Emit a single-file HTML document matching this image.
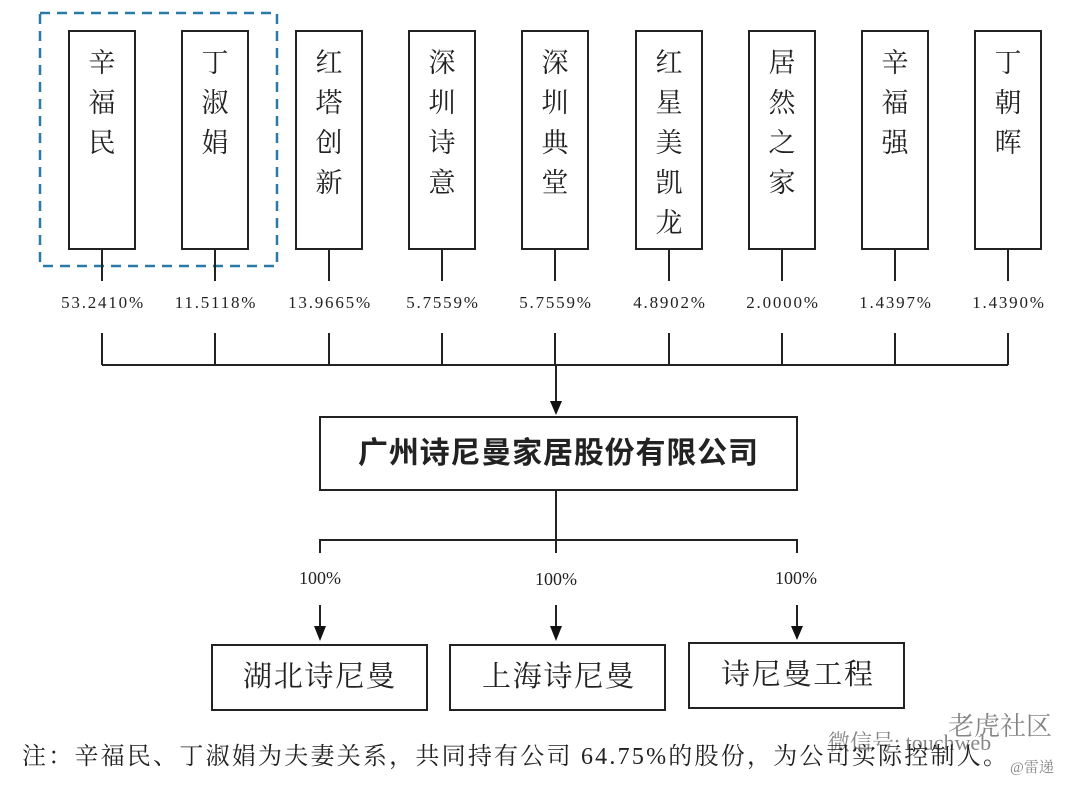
<!DOCTYPE html>
<html><head><meta charset="utf-8"><style>
body{margin:0;background:#fff;}
svg text{font-family:"Liberation Serif","Noto Serif CJK SC",serif;fill:#222;}
</style></head><body>
<svg width="1080" height="790" xmlns="http://www.w3.org/2000/svg">
<rect x="40" y="13" width="237" height="253" fill="none" stroke="#2a7aa8" stroke-width="2.5" stroke-dasharray="10,7"/>
<g stroke="#222" stroke-width="2" fill="none">
<rect x="69" y="31" width="66" height="218"/>
<rect x="182" y="31" width="66" height="218"/>
<rect x="296" y="31" width="66" height="218"/>
<rect x="409" y="31" width="66" height="218"/>
<rect x="522" y="31" width="66" height="218"/>
<rect x="636" y="31" width="66" height="218"/>
<rect x="749" y="31" width="66" height="218"/>
<rect x="862" y="31" width="66" height="218"/>
<rect x="975" y="31" width="66" height="218"/>
<path d="M102,249V281M215,249V281M329,249V281M442,249V281M555,249V281M669,249V281M782,249V281M895,249V281M1008,249V281"/>
<path d="M102,333V365M215,333V365M329,333V365M442,333V365M555,333V365M669,333V365M782,333V365M895,333V365M1008,333V365M102,365H1008"/>
<path d="M556,365V402"/>
<rect x="320" y="417" width="477" height="73"/>
<path d="M556,490V553M320,553V540H797V553"/>
<path d="M320,605V628M556,605V628M797,605V628"/>
<rect x="212" y="645" width="215" height="65"/>
<rect x="450" y="645" width="215" height="65"/>
<rect x="689" y="643" width="215" height="65"/>
</g>
<g fill="#111">
<path d="M550,401H562L556,415z"/>
<path d="M314,626H326L320,641z"/>
<path d="M550,626H562L556,641z"/>
<path d="M791,626H803L797,640z"/>
</g>
<g font-size="27" text-anchor="middle">
<text x="102" y="72">辛</text><text x="102" y="112">福</text><text x="102" y="152">民</text>
<text x="215" y="72">丁</text><text x="215" y="112">淑</text><text x="215" y="152">娟</text>
<text x="329" y="72">红</text><text x="329" y="112">塔</text><text x="329" y="152">创</text><text x="329" y="192">新</text>
<text x="442" y="72">深</text><text x="442" y="112">圳</text><text x="442" y="152">诗</text><text x="442" y="192">意</text>
<text x="555" y="72">深</text><text x="555" y="112">圳</text><text x="555" y="152">典</text><text x="555" y="192">堂</text>
<text x="669" y="72">红</text><text x="669" y="112">星</text><text x="669" y="152">美</text><text x="669" y="192">凯</text><text x="669" y="232">龙</text>
<text x="782" y="72">居</text><text x="782" y="112">然</text><text x="782" y="152">之</text><text x="782" y="192">家</text>
<text x="895" y="72">辛</text><text x="895" y="112">福</text><text x="895" y="152">强</text>
<text x="1008" y="72">丁</text><text x="1008" y="112">朝</text><text x="1008" y="152">晖</text>
</g>
<g font-size="17" text-anchor="middle" letter-spacing="1.8">
<text x="103" y="308">53.2410%</text><text x="216" y="308">11.5118%</text><text x="330" y="308">13.9665%</text>
<text x="443" y="308">5.7559%</text><text x="556" y="308">5.7559%</text><text x="670" y="308">4.8902%</text>
<text x="783" y="308">2.0000%</text><text x="896" y="308">1.4397%</text><text x="1009" y="308">1.4390%</text>
</g>
<text x="358" y="463" font-size="30" font-weight="bold" textLength="400" lengthAdjust="spacing" style="font-family:'Noto Sans CJK SC',sans-serif">广州诗尼曼家居股份有限公司</text>
<g font-size="18"><text x="299" y="584">100%</text><text x="535" y="585">100%</text><text x="775" y="584">100%</text></g>
<g font-size="29"><text x="243" y="686" textLength="152" lengthAdjust="spacing">湖北诗尼曼</text><text x="482" y="686" textLength="152" lengthAdjust="spacing">上海诗尼曼</text><text x="721" y="684" textLength="152" lengthAdjust="spacing">诗尼曼工程</text></g>
<text x="22" y="764" font-size="24" textLength="985" lengthAdjust="spacing">注：辛福民、丁淑娟为夫妻关系，共同持有公司 64.75%的股份，为公司实际控制人。</text>
<g style="opacity:.55"><text x="828" y="750" font-size="22" fill="#999">微信号: touchweb</text><text x="948" y="735" font-size="26" fill="#aaa">老虎社区</text><text x="1010" y="772" font-size="15" fill="#999">@雷递</text></g>
</svg>
</body></html>
